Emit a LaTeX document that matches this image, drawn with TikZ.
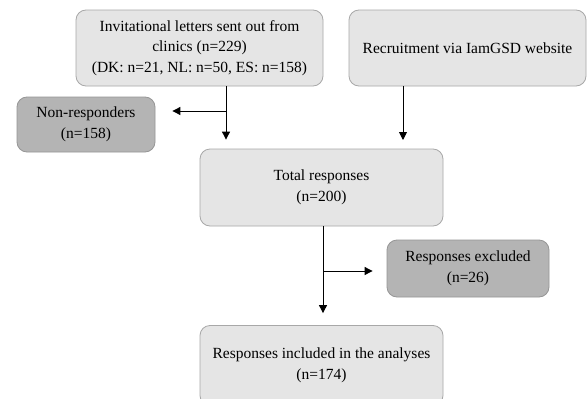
\documentclass[tikz,border=0pt]{standalone}
\usepackage{fontspec}
\setmainfont{Liberation Serif}
\usetikzlibrary{arrows.meta}
\definecolor{lightbox}{RGB}{229,229,229}
\definecolor{lightedge}{RGB}{168,168,168}
\definecolor{darkbox}{RGB}{180,180,180}
\definecolor{darkedge}{RGB}{150,150,150}
\begin{document}
\begin{tikzpicture}[x=1pt,y=-1pt,
  lbox/.style={draw=lightedge, fill=lightbox, rounded corners=10pt, line width=0.8pt,
    align=center, inner sep=0pt, font=\fontsize{15.5}{20.5}\selectfont},
  dbox/.style={lbox, draw=darkedge, fill=darkbox},
  arr/.style={-{Triangle[length=8pt,width=8pt]}, line width=0.9pt, black}]
\clip (0,0) rectangle (587,399);
\fill[white] (0,0) rectangle (587,399);
\node[lbox, minimum width=247pt, minimum height=76pt] (inv) at (199.5,48)
  {Invitational letters sent out from\\clinics (n=229)\\(DK: n=21, NL: n=50, ES: n=158)};
\node[lbox, minimum width=237pt, minimum height=76pt] (rec) at (467.5,48)
  {Recruitment via IamGSD website};
\node[dbox, minimum width=138pt, minimum height=55pt] (non) at (86,124.5)
  {Non-responders\\(n=158)};
\node[lbox, minimum width=243pt, minimum height=77pt] (tot) at (321.5,187.5)
  {Total responses\\(n=200)};
\node[dbox, minimum width=162pt, minimum height=57pt] (exc) at (468,268.5)
  {Responses excluded\\(n=26)};
\node[lbox, minimum width=243pt, minimum height=80pt] (inc) at (321.5,365.5)
  {Responses included in the analyses\\(n=174)};
\coordinate (j1) at (226,111);
\coordinate (j2) at (403,140);
\coordinate (j3) at (323,271);
\draw[line width=0.9pt] (inv.south -| j1) -- (j1);
\draw[arr, shorten >=9pt] (j1) -- (j1 |- tot.north);
\draw[arr, shorten >=17pt] (j1) -- (j1 -| non.east);
\draw[arr] (rec.south -| j2) -- (j2);
\draw[line width=0.9pt] (tot.south -| j3) -- (j3);
\draw[arr, shorten >=12pt] (j3) -- (j3 |- inc.north);
\draw[arr, shorten >=14pt] (j3) -- (j3 -| exc.west);
\end{tikzpicture}
\end{document}
